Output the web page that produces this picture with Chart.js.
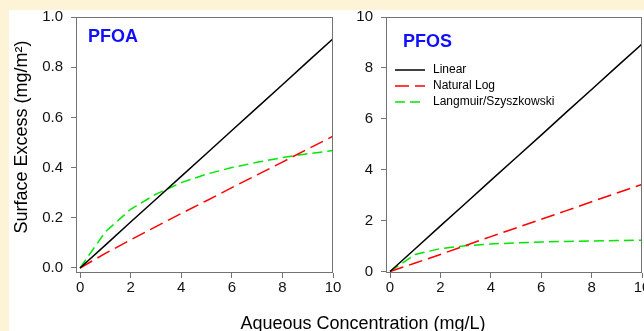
<!DOCTYPE html>
<html>
<head>
<meta charset="utf-8">
<script src="https://cdn.jsdelivr.net/npm/chart.js@4.4.1/dist/chart.umd.min.js"></script>
<style>
  html, body { margin:0; padding:0; }
  body { width:644px; height:331px; overflow:hidden; background:#fdf3d6; position:relative; font-family:"Liberation Sans", Arial, sans-serif; }
  #white { position:absolute; left:9px; top:10px; width:635px; height:321px; background:#ffffff; }
  canvas { position:absolute; top:0; }
  #cL { left:0; }
  #cR { left:340px; }
  #xtitle { position:absolute; left:163px; width:400px; top:313px; text-align:center; font-size:18px; line-height:20px; color:#000; white-space:nowrap; }
</style>
</head>
<body>
<div id="white"></div>
<canvas id="cL" width="348" height="331"></canvas>
<canvas id="cR" width="320" height="331"></canvas>
<div id="xtitle">Aqueous Concentration (mg/L)</div>
<script>
// ---- data ----
const concentration = [0, 1, 2, 3, 4, 5, 6, 7, 8, 9, 10];

const pfoaLinear = [0, 0.091, 0.183, 0.274, 0.365, 0.456, 0.548, 0.639, 0.730, 0.822, 0.913];
const pfoaNatLog = [0, 0.058, 0.112, 0.165, 0.217, 0.268, 0.320, 0.371, 0.422, 0.474, 0.525];
const pfoaLangmuir = [0, 0.144, 0.234, 0.294, 0.340, 0.374, 0.400, 0.421, 0.440, 0.455, 0.468];

const pfosLinear = [0, 0.894, 1.79, 2.68, 3.58, 4.47, 5.36, 6.26, 7.15, 8.05, 8.94];
const pfosNatLog = [0, 0.33, 0.67, 1.02, 1.37, 1.71, 2.05, 2.39, 2.74, 3.08, 3.42];
const pfosLangmuir = [0, 0.67, 0.90, 1.01, 1.08, 1.125, 1.16, 1.18, 1.20, 1.215, 1.23];

const seriesNames = ['Linear', 'Natural Log', 'Langmuir/Szyszkowski'];

const xTicks = [0, 2, 4, 6, 8, 10];
const xTickLabels = ['0', '2', '4', '6', '8', '10'];
const yTicksPfoa = [0, 0.2, 0.4, 0.6, 0.8, 1.0];
const yTickLabelsPfoa = ['0.0', '0.2', '0.4', '0.6', '0.8', '1.0'];
const yTicksPfos = [0, 2, 4, 6, 8, 10];
const yTickLabelsPfos = ['0', '2', '4', '6', '8', '10'];

// ---- styles ----
const FONT = '"Liberation Sans", Arial, sans-serif';
const AXIS_GRAY = '#737373';
const seriesStyles = [
  { color: '#000000', dash: [] },
  { color: '#ff0000', dash: [14, 6] },
  { color: '#00e600', dash: [10, 5] }
];

function pts(ys) { return concentration.map((x, i) => ({ x: x, y: ys[i] })); }

function makeDatasets(arrs) {
  return arrs.map((ys, i) => ({
    label: seriesNames[i],
    data: pts(ys),
    borderColor: seriesStyles[i].color,
    borderDash: seriesStyles[i].dash,
    borderWidth: 1.5,
    pointRadius: 0,
    tension: 0,
    fill: false
  }));
}

// frame + extra text plugin
const framePlugin = {
  id: 'frameText',
  afterDraw(chart, args, opts) {
    const ctx = chart.ctx, a = chart.chartArea;
    ctx.save();
    ctx.strokeStyle = AXIS_GRAY;
    ctx.lineWidth = 1;
    ctx.setLineDash([]);
    ctx.strokeRect(a.left + 0.5, a.top + 0.5, a.right - a.left - 1, a.bottom - a.top - 1);
    // panel label
    if (opts.panel) {
      ctx.fillStyle = '#1010ff';
      ctx.font = 'bold 18px ' + FONT;
      ctx.textBaseline = 'middle';
      ctx.textAlign = 'left';
      ctx.fillText(opts.panel.text, a.left + opts.panel.dx, a.top + opts.panel.dy);
    }
    // y title
    if (opts.ytitle) {
      ctx.save();
      ctx.translate(opts.ytitle.x, opts.ytitle.y);
      ctx.rotate(-Math.PI / 2);
      ctx.fillStyle = '#000';
      ctx.font = '18px ' + FONT;
      ctx.textAlign = 'center';
      ctx.textBaseline = 'middle';
      ctx.fillText(opts.ytitle.text, 0, 0);
      ctx.restore();
    }
    // legend
    if (opts.legend) {
      const L = opts.legend;
      chart.data.datasets.forEach((ds, i) => {
        const y = a.top + L.dy + i * L.step;
        ctx.strokeStyle = ds.borderColor;
        ctx.lineWidth = 1.5;
        ctx.setLineDash(ds.borderDash || []);
        ctx.beginPath();
        ctx.moveTo(a.left + L.dx, y);
        ctx.lineTo(a.left + L.dx + 30, y);
        ctx.stroke();
        ctx.setLineDash([]);
        ctx.fillStyle = '#000';
        ctx.font = '12px ' + FONT;
        ctx.textAlign = 'left';
        ctx.textBaseline = 'middle';
        ctx.fillText(ds.label, a.left + L.dx + 38, y);
      });
    }
    ctx.restore();
  }
};

function makeChart(canvasId, datasets, yMin, yMax, yTicks, yLabels, yWidth, xHeight, pad, frameOpts) {
  return new Chart(document.getElementById(canvasId), {
    type: 'line',
    data: { datasets: datasets },
    options: {
      responsive: false,
      animation: false,
      devicePixelRatio: 1,
      layout: { padding: pad, autoPadding: false },
      plugins: { legend: { display: false }, tooltip: { enabled: false }, frameText: frameOpts },
      scales: {
        x: {
          type: 'linear', min: -0.16, max: 10,
          afterBuildTicks: (s) => { s.ticks = xTicks.map(v => ({ value: v })); },
          afterFit: (s) => { s.height = xHeight; },
          grid: { drawOnChartArea: false, drawTicks: true, tickLength: 5, color: AXIS_GRAY, lineWidth: 1 },
          border: { display: false },
          ticks: { color: '#111', font: { family: FONT, size: 15 }, padding: 1, maxRotation: 0, autoSkip: false,
                   callback: (v, i) => xTickLabels[i] }
        },
        y: {
          type: 'linear', min: yMin, max: yMax,
          afterBuildTicks: (s) => { s.ticks = yTicks.map(v => ({ value: v })); },
          afterFit: (s) => { s.width = yWidth; },
          grid: { drawOnChartArea: false, drawTicks: true, tickLength: 5, color: AXIS_GRAY, lineWidth: 1 },
          border: { display: false },
          ticks: { color: '#111', font: { family: FONT, size: 15 }, padding: 8, autoSkip: false,
                   callback: (v, i) => yLabels[i] }
        }
      }
    },
    plugins: [framePlugin]
  });
}

makeChart('cL', makeDatasets([pfoaLinear, pfoaNatLog, pfoaLangmuir]),
  -0.02, 1.0, yTicksPfoa, yTickLabelsPfoa, 76, 58,
  { left: 0, top: 16, right: 15, bottom: 0 },
  { panel: { text: 'PFOA', dx: 12, dy: 20 },
    ytitle: { text: 'Surface Excess (mg/m\u00B2)', x: 22, y: 137 } });

makeChart('cR', makeDatasets([pfosLinear, pfosNatLog, pfosLangmuir]),
  -0.06, 10, yTicksPfos, yTickLabelsPfos, 46, 58,
  { left: 0, top: 17, right: 18, bottom: 0 },
  { panel: { text: 'PFOS', dx: 17, dy: 25 },
    legend: { dx: 9, dy: 53, step: 16 } });
</script>
</body>
</html>
